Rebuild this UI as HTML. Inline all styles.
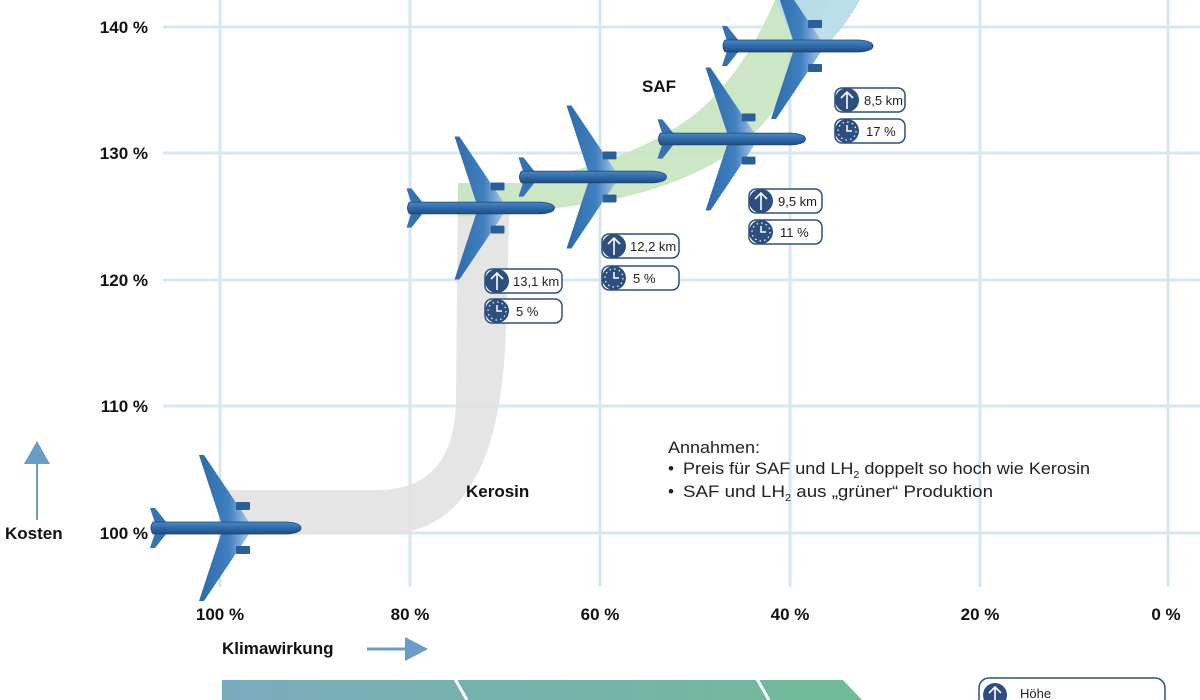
<!DOCTYPE html>
<html><head><meta charset="utf-8"><style>
html,body{margin:0;padding:0;background:#fff}
svg{display:block}
.b{font-family:"Liberation Sans",sans-serif;font-weight:bold;font-size:17px;fill:#111}
.n{font-family:"Liberation Sans Narrow","Liberation Sans",sans-serif;font-size:17px;fill:#222}
.s{font-family:"Liberation Sans Narrow","Liberation Sans",sans-serif;font-size:13px;fill:#222}
</style></head><body>
<svg width="1200" height="700" viewBox="0 0 1200 700" xmlns="http://www.w3.org/2000/svg">
<defs>
<linearGradient id="wing" x1="0" y1="0" x2="1" y2="0">
<stop offset="0" stop-color="#2f6aa8"/><stop offset="0.6" stop-color="#3f80c0"/><stop offset="1" stop-color="#a9c6e4"/></linearGradient>
<linearGradient id="body" x1="0" y1="0" x2="0" y2="1">
<stop offset="0" stop-color="#4a8ac6"/><stop offset="0.5" stop-color="#2f6aa8"/><stop offset="1" stop-color="#1f4d80"/></linearGradient>
<linearGradient id="bar" x1="0" y1="0" x2="1" y2="0">
<stop offset="0" stop-color="#7aabbd"/><stop offset="1" stop-color="#72bb98"/></linearGradient>
<g id="plane">
<polygon points="-26,-73 -21,-73 24,-6 -4,-6" fill="url(#wing)"/>
<polygon points="-26,73 -21,73 24,6 -4,6" fill="url(#wing)"/>
<rect x="11" y="-26" width="14" height="8" rx="1" fill="#2a5f98"/>
<rect x="11" y="18" width="14" height="8" rx="1" fill="#2a5f98"/>
<polygon points="-75,-20 -70,-20 -58,-5 -70,-5" fill="#3572b0"/>
<polygon points="-75,20 -70,20 -58,5 -70,5" fill="#3572b0"/>
<path d="M-72,-6 L62,-6 Q76,-5 76,0 Q76,5 62,6 L-72,6 Q-76,0 -72,-6Z" fill="url(#body)" stroke="#1d4270" stroke-width="0.8"/>
</g>
<g id="alt"><circle cx="0" cy="0" r="12" fill="#2d4f7f"/><path d="M0,9 V-8 M-6,-2 L0,-8 L6,-2" stroke="#fff" stroke-width="1.6" fill="none"/></g>
<g id="clk"><circle cx="0" cy="0" r="12" fill="#2d4f7f"/><circle cx="0" cy="0" r="9" fill="none" stroke="#fff" stroke-width="1.2" stroke-dasharray="1.5 3.2"/><path d="M0,-6 V0 H5" stroke="#fff" stroke-width="1.5" fill="none"/></g>
</defs>
<g stroke="#d6e7f0" stroke-width="3">
<line x1="163" y1="27" x2="1200" y2="27"/><line x1="163" y1="153" x2="1200" y2="153"/>
<line x1="163" y1="280" x2="1200" y2="280"/><line x1="163" y1="406" x2="1200" y2="406"/>
<line x1="163" y1="533" x2="1200" y2="533"/>
<line x1="220" y1="0" x2="220" y2="587"/><line x1="410" y1="0" x2="410" y2="587"/>
<line x1="600" y1="0" x2="600" y2="587"/><line x1="790" y1="0" x2="790" y2="587"/>
<line x1="980" y1="0" x2="980" y2="587"/><line x1="1168" y1="0" x2="1168" y2="587"/>
</g>
<path d="M220,490 L380,490 Q455,488 456,400 L458,185 L510,185 L506,330 Q500,520 400,533 L220,535 Z" fill="#e2e2e2" opacity="0.9"/>
<path d="M458,183 L520,183 Q640,160 700,110 Q745,70 775,0 L830,0 Q805,60 780,100 Q740,170 620,198 Q540,213 458,217 Z" fill="#c6e4bf" opacity="0.9"/>
<path d="M775,0 L860,0 Q840,35 820,50 L800,60 Q790,30 775,0Z" fill="#b6dbe8" opacity="0.9"/>
<use href="#plane" transform="translate(225,528)"/>
<use href="#plane" transform="translate(480,208) scale(0.98)"/>
<use href="#plane" transform="translate(592,177) scale(0.98)"/>
<use href="#plane" transform="translate(731,139) scale(0.98)"/>
<use href="#plane" transform="translate(797,46) scale(1)"/>
<g font-family="Liberation Sans Narrow,Liberation Sans,sans-serif" font-size="13" fill="#222">
<g transform="translate(497,281)"><rect x="-12" y="-12" width="77" height="24" rx="7" fill="#fff" stroke="#2d4f7f" stroke-width="1.5"/><use href="#alt"/><text x="16" y="5">13,1 km</text></g>
<g transform="translate(497,311)"><rect x="-12" y="-12" width="77" height="24" rx="7" fill="#fff" stroke="#2d4f7f" stroke-width="1.5"/><use href="#clk"/><text x="19" y="5">5 %</text></g>
<g transform="translate(614,246)"><rect x="-12" y="-12" width="77" height="24" rx="7" fill="#fff" stroke="#2d4f7f" stroke-width="1.5"/><use href="#alt"/><text x="16" y="5">12,2 km</text></g>
<g transform="translate(614,278)"><rect x="-12" y="-12" width="77" height="24" rx="7" fill="#fff" stroke="#2d4f7f" stroke-width="1.5"/><use href="#clk"/><text x="19" y="5">5 %</text></g>
<g transform="translate(761,201)"><rect x="-12" y="-12" width="73" height="24" rx="7" fill="#fff" stroke="#2d4f7f" stroke-width="1.5"/><use href="#alt"/><text x="17" y="5">9,5 km</text></g>
<g transform="translate(761,232)"><rect x="-12" y="-12" width="73" height="24" rx="7" fill="#fff" stroke="#2d4f7f" stroke-width="1.5"/><use href="#clk"/><text x="19" y="5">11 %</text></g>
<g transform="translate(847,100)"><rect x="-12" y="-12" width="70" height="24" rx="7" fill="#fff" stroke="#2d4f7f" stroke-width="1.5"/><use href="#alt"/><text x="17" y="5">8,5 km</text></g>
<g transform="translate(847,131)"><rect x="-12" y="-12" width="70" height="24" rx="7" fill="#fff" stroke="#2d4f7f" stroke-width="1.5"/><use href="#clk"/><text x="19" y="5">17 %</text></g>
</g>
<g class="b" text-anchor="end">
<text x="148" y="33">140 %</text><text x="148" y="159">130 %</text><text x="148" y="286">120 %</text>
<text x="148" y="412">110 %</text><text x="148" y="539">100 %</text>
</g>
<g class="b" text-anchor="middle">
<text x="220" y="620">100 %</text><text x="410" y="620">80 %</text><text x="600" y="620">60 %</text>
<text x="790" y="620">40 %</text><text x="980" y="620">20 %</text><text x="1166" y="620">0 %</text>
</g>
<text class="b" x="5" y="539">Kosten</text>
<line x1="37" y1="520" x2="37" y2="462" stroke="#6a9cc8" stroke-width="2"/>
<polygon points="24,464 50,464 37,441" fill="#6a9cc8"/>
<text class="b" x="222" y="654">Klimawirkung</text>
<line x1="367" y1="649" x2="408" y2="649" stroke="#6a9cc8" stroke-width="3"/>
<polygon points="405,637 428,649 405,661" fill="#6a9cc8"/>
<text class="b" x="642" y="92" font-size="16">SAF</text>
<text class="b" x="466" y="497" font-size="16">Kerosin</text>
<text class="n" x="668" y="453" textLength="92" lengthAdjust="spacingAndGlyphs">Annahmen:</text>
<text class="n" x="668" y="474">•</text><text class="n" x="683" y="474" textLength="407" lengthAdjust="spacingAndGlyphs">Preis für SAF und LH<tspan font-size="10" dy="4">2</tspan><tspan dy="-4"> doppelt so hoch wie Kerosin</tspan></text>
<text class="n" x="668" y="497">•</text><text class="n" x="683" y="497" textLength="310" lengthAdjust="spacingAndGlyphs">SAF und LH<tspan font-size="10" dy="4">2</tspan><tspan dy="-4"> aus „grüner“ Produktion</tspan></text>
<path d="M222,680 L843,680 L862,700 L222,700Z" fill="url(#bar)"/>
<line x1="455" y1="679" x2="467" y2="700" stroke="#fff" stroke-width="3"/>
<line x1="757" y1="679" x2="769" y2="700" stroke="#fff" stroke-width="3"/>
<rect x="979" y="678" width="186" height="40" rx="10" fill="#fff" stroke="#2d4f7f" stroke-width="1.5"/>
<use href="#alt" transform="translate(995,695)"/>
<text class="s" x="1020" y="698" font-size="12">Höhe</text>
</svg>
</body></html>
